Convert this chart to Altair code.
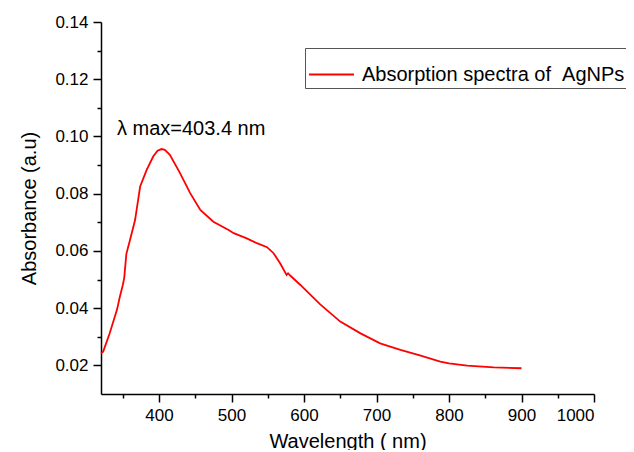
import altair as alt
import pandas as pd

wavelength = [320, 323, 332, 342, 346, 350, 352, 355, 360, 367, 374, 383, 392, 398, 403.4,
              408, 415, 429, 443, 457, 475, 496, 503, 521, 535, 549, 558, 567, 576, 578,
              581, 595, 622, 650, 678, 705, 733, 761, 788, 800, 825, 862, 900]
absorbance = [0.0242, 0.0248, 0.0312, 0.0394, 0.0440, 0.0480, 0.0505, 0.0590, 0.0638, 0.0708,
              0.0825, 0.0883, 0.0930, 0.0950, 0.0956, 0.0953, 0.0936, 0.0872, 0.0802, 0.0743,
              0.0702, 0.0673, 0.0662, 0.0644, 0.0627, 0.0613, 0.0592, 0.0557, 0.0516, 0.0522,
              0.0514, 0.0481, 0.0414, 0.0353, 0.0312, 0.0277, 0.0254, 0.0234, 0.0213, 0.0207,
              0.0199, 0.0193, 0.0190]
series_name = "Absorption spectra of \u00a0AgNPs"
x_major = [400, 500, 600, 700, 800, 900, 1000]
x_minor = [350, 450, 550, 650, 750, 850, 950]
y_major = [0.02, 0.04, 0.06, 0.08, 0.10, 0.12, 0.14]
y_minor = [0.03, 0.05, 0.07, 0.09, 0.11, 0.13]
annotation_text = "\u03bb max=403.4 nm"

df = pd.DataFrame({"w": wavelength, "a": absorbance, "s": series_name})
ann = pd.DataFrame({"w": [342], "a": [0.1004], "t": [annotation_text]})

FONT = "Liberation Sans"
xs = alt.Scale(domain=[320, 1000], nice=False, zero=False)
ys = alt.Scale(domain=[0.01, 0.14], nice=False, zero=False)

x_axis = alt.Axis(
    values=x_major, title="Wavelength ( nm)", grid=False, orient="bottom", tickSize=8, format="d",
    labelFont=FONT, labelFontSize=17, labelColor="black", labelPadding=5,
    titleFont=FONT, titleFontSize=20, titleFontWeight="normal", titleColor="black",
    titlePadding=8, domainColor="black", domainWidth=1.5, tickColor="black", tickWidth=1.5,
)
y_axis = alt.Axis(
    values=y_major, title="Absorbance (a.u)", grid=False, format=".2f", orient="left", tickSize=8,
    labelFont=FONT, labelFontSize=17, labelColor="black", labelPadding=5,
    titleFont=FONT, titleFontSize=20, titleFontWeight="normal", titleColor="black",
    titlePadding=15, domainColor="black", domainWidth=1.5, tickColor="black", tickWidth=1.5,
)
x_axis_minor = alt.Axis(values=x_minor, title=None, labels=False, grid=False, orient="bottom",
                        tickSize=4, tickColor="black", tickWidth=1.5, domain=False)
y_axis_minor = alt.Axis(values=y_minor, title=None, labels=False, grid=False, orient="left",
                        tickSize=4, tickColor="black", tickWidth=1.5, domain=False)

line = alt.Chart(df).mark_line(strokeWidth=1.8).encode(
    x=alt.X("w:Q", scale=xs, axis=x_axis),
    y=alt.Y("a:Q", scale=ys, axis=y_axis),
    color=alt.Color("s:N", scale=alt.Scale(domain=[series_name], range=["#ff0000"]),
                    legend=alt.Legend(
                        title=None, orient="none", legendX=204, legendY=26,
                        symbolType="stroke", symbolSize=2025, symbolStrokeWidth=1.8,
                        labelFont=FONT, labelFontSize=20, labelColor="black", labelLimit=0,
                        strokeColor="#555555", padding=3, labelOffset=7,
                    )),
)

text = alt.Chart(ann).mark_text(align="left", baseline="alphabetic", font=FONT,
                                fontSize=20, color="black").encode(
    x=alt.X("w:Q", scale=xs, axis=x_axis_minor),
    y=alt.Y("a:Q", scale=ys, axis=y_axis_minor),
    text="t:N",
)

chart = alt.layer(line, text).resolve_axis(x="independent", y="independent").properties(
    width=493, height=372,
    autosize=alt.AutoSizeParams(type="none"),
    padding={"left": 93, "top": 14, "right": 32, "bottom": 56},
).configure_view(stroke=None)

chart.save("out.html", embed_options={"renderer": "svg", "actions": False})
